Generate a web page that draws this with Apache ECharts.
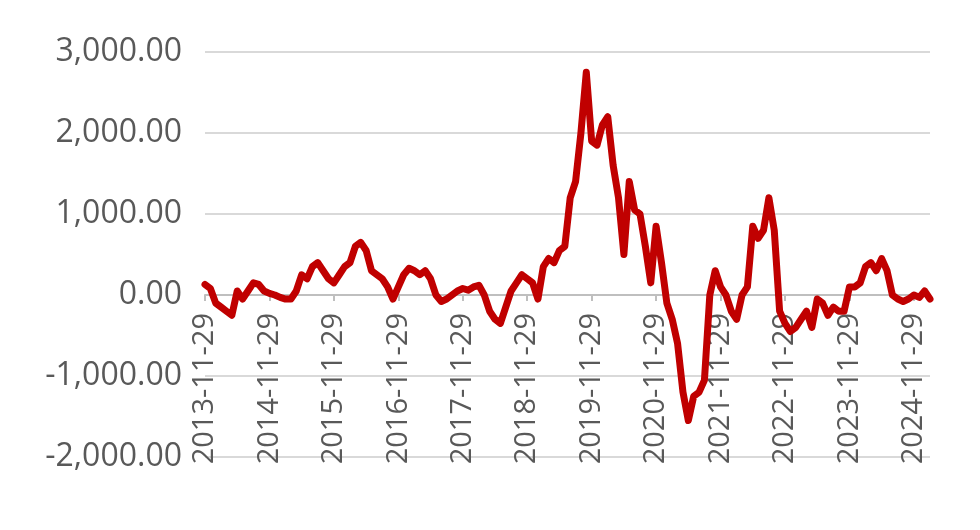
<!DOCTYPE html>
<html><head><meta charset="utf-8">
<script src="https://cdn.jsdelivr.net/npm/echarts@6/dist/echarts.min.js"></script>
<style>html,body{margin:0;padding:0;background:#fff}#c{width:980px;height:530px}</style>
</head><body><div id="c"></div>
<script>
const startYear = 2013, startMonth = 11, pointCount = 136;
const values = [
130,80,-100,-150,-200,-250,50,-50,50,150,130,50,
20,0,-30,-50,-50,50,250,200,350,400,300,200,
150,250,350,400,600,650,550,300,250,200,100,-50,
100,250,330,300,250,300,200,0,-80,-50,0,50,
80,60,100,120,0,-200,-300,-350,-150,50,150,250,
200,150,-50,350,450,400,550,600,1200,1400,2000,2750,
1900,1850,2100,2200,1600,1200,500,1400,1050,1000,600,150,
850,400,-100,-300,-600,-1200,-1550,-1250,-1200,-1050,0,300,
100,0,-200,-300,0,100,850,700,800,1200,800,-200,
-350,-450,-400,-300,-200,-400,-50,-100,-250,-150,-200,-200,
100,100,150,350,400,300,450,300,0,-50,-80,-50,
0,-30,50,-50
];
const categories = [];
for (let i = 0; i < pointCount; i++) {
  const m = startMonth - 1 + i;
  const y = startYear + Math.floor(m / 12);
  const mm = String(m % 12 + 1).padStart(2, '0');
  categories.push(y + '-' + mm + '-29');
}
const yTicks = { min: -2000, max: 3000, interval: 1000 };
const font = 'Open Sans, Liberation Sans, sans-serif';
const chart = echarts.init(document.getElementById('c'));
chart.setOption({
  animation: false,
  grid: { left: 205, right: 50, top: 52, bottom: 73, containLabel: false, outerBoundsMode: 'none' },
  xAxis: {
    type: 'category', data: categories, boundaryGap: false,
    offset: -162,
    axisLine: { onZero: false, lineStyle: { color: '#bfbfbf', width: 2 } },
    axisTick: { show: true, interval: 11, length: 6, lineStyle: { color: '#bfbfbf', width: 2 } },
    axisLabel: { interval: 11, rotate: 90, color: '#595959', fontSize: 29, fontFamily: font, margin: 18 },
    splitLine: { show: false }
  },
  yAxis: {
    type: 'value', min: yTicks.min, max: yTicks.max, interval: yTicks.interval,
    axisLine: { show: false }, axisTick: { show: false },
    axisLabel: { color: '#595959', fontSize: 32, fontFamily: font, margin: 23,
      formatter: v => v.toLocaleString('en-US', { minimumFractionDigits: 2, maximumFractionDigits: 2 }) },
    splitLine: { lineStyle: { color: '#d9d9d9', width: 2 } }
  },
  series: [{ type: 'line', data: values, symbol: 'none', smooth: false, z: 5,
    lineStyle: { color: '#c00000', width: 7, join: 'round', cap: 'round' } }]
});
</script></body></html>
